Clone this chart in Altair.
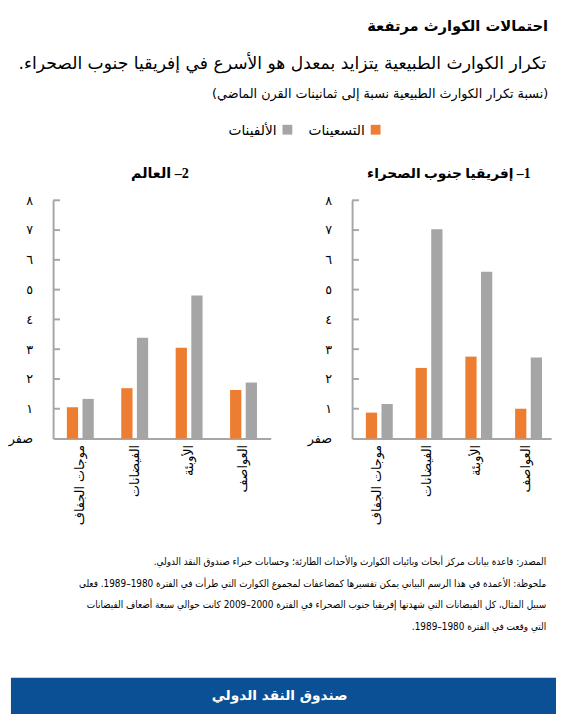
import altair as alt
import pandas as pd

RLE, PDF = "\u202B", "\u202C"

# ---------------- data ----------------
categories = ["موجات الجفاف", "الفيضانات", "الأوبئة", "العواصف"]
series = ["التسعينات", "الألفينات"]
ssa_1990s = [0.87, 2.37, 2.75, 1.00]
ssa_2000s = [1.16, 7.03, 5.60, 2.72]
world_1990s = [1.05, 1.69, 3.05, 1.63]
world_2000s = [1.33, 3.38, 4.80, 1.88]
y_ticks = [0, 1, 2, 3, 4, 5, 6, 7, 8]
y_tick_labels = ["صفر", "١", "٢", "٣", "٤", "٥", "٦", "٧", "٨"]

title_text = "احتمالات الكوارث مرتفعة"
subtitle_text = "تكرار الكوارث الطبيعية يتزايد بمعدل هو الأسرع في إفريقيا جنوب الصحراء."
unit_text = "(نسبة تكرار الكوارث الطبيعية نسبة إلى ثمانينات القرن الماضي)"
panel1_title = "1– إفريقيا جنوب الصحراء"
panel2_title = "2– العالم"
notes = [
    "المصدر: قاعدة بيانات مركز أبحاث وبائيات الكوارث والأحداث الطارئة؛ وحسابات خبراء صندوق النقد الدولي.",
    "ملحوظة: الأعمدة في هذا الرسم البياني يمكن تفسيرها كمضاعفات لمجموع الكوارث التي طرأت في الفترة 1980–1989. فعلى",
    "سبيل المثال، كل الفيضانات التي شهدتها إفريقيا جنوب الصحراء في الفترة 2000–2009 كانت حوالي سبعة أضعاف الفيضانات",
    "التي وقعت في الفترة 1980–1989.",
]
banner_text = "صندوق النقد الدولي"

ORANGE, GRAY, AXIS = "#ED7D31", "#A5A5A5", "#A6A6A6"
BLUE = "#0B4F94"
FONT = "DejaVu Sans"
FONT_C = "DejaVu Sans Condensed, DejaVu Sans"
SERIF = "Liberation Serif, DejaVu Sans"


def rtl(s):
    return RLE + s + PDF


def panel_df(v90, v00):
    rows = []
    for c, a, b in zip(categories, v90, v00):
        rows.append({"category": c, "series": series[0], "value": a})
        rows.append({"category": c, "series": series[1], "value": b})
    return pd.DataFrame(rows)


# nested conditional label expression: 0 -> 'صفر', 1 -> '١', ...
label_expr = "''"
for v, s in reversed(list(zip(y_ticks, y_tick_labels))):
    label_expr = "datum.value == %d ? '%s' : (%s)" % (v, s, label_expr)

color_scale = alt.Scale(domain=series, range=[ORANGE, GRAY])
PLOT_H = 243


def y_axis():
    return alt.Axis(
        title=None, values=y_ticks, labelExpr=label_expr,
        ticks=False, grid=False, domainColor=AXIS, domainWidth=2,
        labelPadding=21, labelFont=FONT, labelFontSize=13, labelColor="#000",
    )


def panel(df, width):
    yscale = alt.Scale(domain=[0, 8], nice=False, zero=True)
    bars = alt.Chart(df).mark_bar().encode(
        x=alt.X(
            "category:N",
            sort=categories,
            scale=alt.Scale(paddingInner=0, paddingOuter=0),
            axis=alt.Axis(
                title=None, labelAngle=270, ticks=False,
                domainColor=AXIS, domainWidth=2,
                labelFont=FONT, labelFontSize=13, labelPadding=6, labelColor="#000",
            ),
        ),
        xOffset=alt.XOffset("series:N", sort=series,
                            scale=alt.Scale(paddingInner=0.28, paddingOuter=0.88)),
        y=alt.Y("value:Q", scale=yscale, axis=y_axis()),
        color=alt.Color("series:N", sort=series, scale=color_scale, legend=None),
    )
    ticks = alt.Chart(pd.DataFrame({"value": y_ticks[1:]})).mark_rule(
        color=AXIS, strokeWidth=2
    ).encode(
        x=alt.value(0), x2=alt.value(7),
        y=alt.Y("value:Q", scale=yscale, axis=y_axis()),
    )
    return alt.layer(bars, ticks).properties(width=width, height=PLOT_H)


left = panel(panel_df(world_1990s, world_2000s), 222)
right = panel(panel_df(ssa_1990s, ssa_2000s), 203)

one = pd.DataFrame({"k": [0]})

OFF = 43           # left overhang: views start this far right of the chart's left edge
W = 556 - OFF      # width of the header / footer views


def px(page_x):
    """page x (pixels) -> x inside a header/footer view"""
    return page_x - 8 - OFF


def text(s, x, y, size, align="right", weight="normal", font=FONT, color="#000"):
    return alt.Chart(one).mark_text(
        text=s, align=align, baseline="middle", fontSize=size,
        fontWeight=weight, font=font, color=color,
    ).encode(x=alt.value(x), y=alt.value(y))


HEAD_H = 183
header = alt.layer(
    text(rtl(title_text), px(556), 11, 15, weight="bold"),
    text(rtl(subtitle_text), px(554), 50, 17.5),
    text(rtl(unit_text), px(556), 81, 13),
    text(rtl(series[0]), px(369), 118, 14),
    text(rtl(series[1]), px(279), 118, 14),
    alt.Chart(one).mark_square(size=100, color=ORANGE, opacity=1).encode(
        x=alt.value(px(380)), y=alt.value(117)),
    alt.Chart(one).mark_square(size=100, color=GRAY, opacity=1).encode(
        x=alt.value(px(290)), y=alt.value(117)),
    text(rtl(panel1_title), px(538), 162, 14, weight="bold", font=SERIF),
    text(rtl(panel2_title), px(160), 162, 14.5, align="center", weight="bold", font=SERIF),
).properties(width=W, height=HEAD_H)

FOOT_H = 192
footer = alt.layer(
    alt.Chart(one).mark_text(
        text=[rtl(n) for n in notes], align="right", baseline="middle",
        fontSize=10.1, font=FONT_C, lineHeight=22, color="#000",
    ).encode(x=alt.value(px(554)), y=alt.value(37)),
    alt.Chart(one).mark_rect(color=BLUE).encode(
        x=alt.value(-OFF), x2=alt.value(W), y=alt.value(155), y2=alt.value(FOOT_H)),
    text(rtl(banner_text), px(282), 174, 14, align="center", weight="bold", color="#FFFFFF"),
).properties(width=W, height=FOOT_H)

middle = alt.hconcat(left, right, spacing=37)

chart = alt.vconcat(header, middle, footer, spacing=0).properties(
    padding=0
).configure(font=FONT).configure_view(strokeWidth=0, stroke="transparent")

chart.save("out.html", embed_options={"renderer": "svg", "actions": False})
